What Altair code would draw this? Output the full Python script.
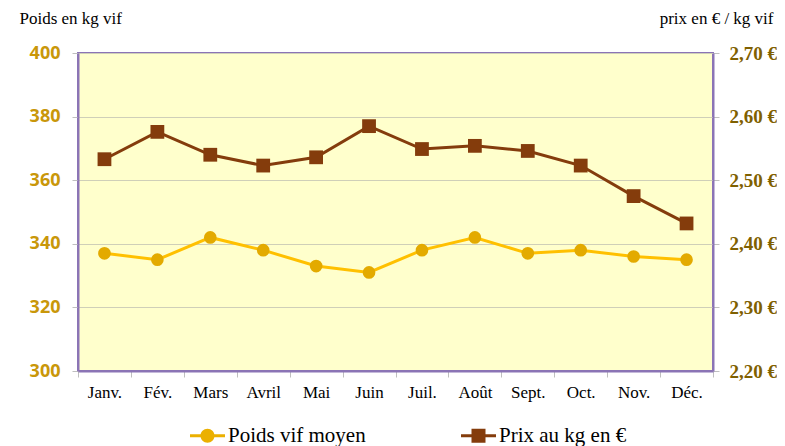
import altair as alt
import pandas as pd

months = ["Janv.", "Fév.", "Mars", "Avril", "Mai", "Juin", "Juil.", "Août", "Sept.", "Oct.", "Nov.", "Déc."]
poids = [337, 335, 342, 338, 333, 331, 338, 342, 337, 338, 336, 335]
prix = [2.533, 2.576, 2.540, 2.523, 2.536, 2.585, 2.549, 2.554, 2.546, 2.523, 2.475, 2.432]
series = ["Poids vif moyen", "Prix au kg en €"]
left_ticks = [300, 320, 340, 360, 380, 400]
right_ticks = [2.2, 2.3, 2.4, 2.5, 2.6, 2.7]

df = pd.DataFrame({"mois": months, "poids": poids, "prix": prix, "serie": series[0]})

x = alt.X("mois:N", sort=months, bandPosition=0.5,
          scale=alt.Scale(type="band", paddingInner=0, paddingOuter=0),
          axis=alt.Axis(title=None, tickBand="extent", labelAngle=0, labelFont="Liberation Serif",
                        labelFontSize=17, labelColor="#000000", labelPadding=7, tickColor="#BFBFBF",
                        tickSize=6, domainColor="#8B74B5", domainWidth=2, grid=False))

y_left = alt.Y("poids:Q", scale=alt.Scale(domain=[300, 400], nice=False, zero=False),
               axis=alt.Axis(values=left_ticks, title="Poids en kg vif", titleAngle=0, titleX=-59, titleY=-35,
                             titleAlign="left", titleBaseline="middle", titleFont="Liberation Serif",
                             titleFontSize=17, titleFontWeight="normal", titleColor="#000000",
                             labelFont="Open Sans", labelFontWeight="bold", labelFontSize=18,
                             labelColor="#C9970A", labelPadding=12, tickColor="#BFBFBF", tickSize=6,
                             domainColor="#8B74B5", domainWidth=2, grid=True, gridColor="#CFCFB8"))

y_right = alt.Y("prix:Q", scale=alt.Scale(domain=[2.2, 2.7], nice=False, zero=False),
                axis=alt.Axis(orient="right", values=right_ticks, title="prix en € / kg vif", titleAngle=0,
                              titleX=60, titleY=-35, titleAlign="right", titleBaseline="middle",
                              titleFont="Liberation Serif", titleFontSize=17, titleFontWeight="normal",
                              titleColor="#000000",
                              labelExpr="replace(format(datum.value, '.2f'), '.', ',') + ' €'",
                              labelFont="Liberation Serif", labelFontWeight="bold", labelFontSize=19,
                              labelColor="#7F6000", labelPadding=10, tickColor="#BFBFBF", tickSize=6,
                              domainColor="#8B74B5", domainWidth=2, grid=False))

base = alt.Chart(df)

line_poids = base.mark_line(color="#FFC000", strokeWidth=3).encode(x=x, y=y_left)
pts_poids = base.mark_point(shape="circle", filled=True, size=160, color="#E3AA00", opacity=1).encode(x=x, y=y_left)

circ_path = "M-1,-0.08L1,-0.08L1,0.08L-1,0.08Z M0.4,0 A0.4,0.4 0 1,1 -0.4,0 A0.4,0.4 0 1,1 0.4,0 Z"
sq_path = "M-1,-0.08L1,-0.08L1,0.08L-1,0.08Z M-0.4,-0.4L0.4,-0.4L0.4,0.4L-0.4,0.4Z"

legend_layer = base.transform_filter("false").mark_point(filled=True, strokeWidth=0, opacity=1).encode(
    x=x, y=y_left,
    color=alt.Color("serie:N", scale=alt.Scale(domain=series, range=["#EBB000", "#843C0C"]),
                    legend=alt.Legend(title=None, orient="none", direction="horizontal", legendX=112,
                                      legendY=365, symbolSize=1225, symbolStrokeWidth=0, labelOffset=3,
                                      columnPadding=95, labelFont="Liberation Serif", labelFontSize=21,
                                      labelColor="#000000", labelLimit=300)),
    shape=alt.Shape("serie:N", scale=alt.Scale(domain=series, range=[circ_path, sq_path]), legend=None),
)

left = alt.layer(line_poids, pts_poids, legend_layer)

line_prix = base.mark_line(color="#843C0C", strokeWidth=3).encode(x=x, y=y_right)
pts_prix = base.mark_point(shape="square", filled=True, size=190, color="#843C0C", opacity=1).encode(x=x, y=y_right)
right = alt.layer(line_prix, pts_prix)

chart = alt.layer(left, right).resolve_scale(y="independent").properties(
    width=635, height=318,
    background="#FFFFFF",
    autosize=alt.AutoSizeParams(type="none"),
    padding={"left": 70, "top": 45, "right": 64, "bottom": 75},
).configure_view(fill="#FFFFCC", stroke="#8B74B5", strokeWidth=2)

chart.save("out.html", embed_options={"renderer": "svg", "actions": False})
